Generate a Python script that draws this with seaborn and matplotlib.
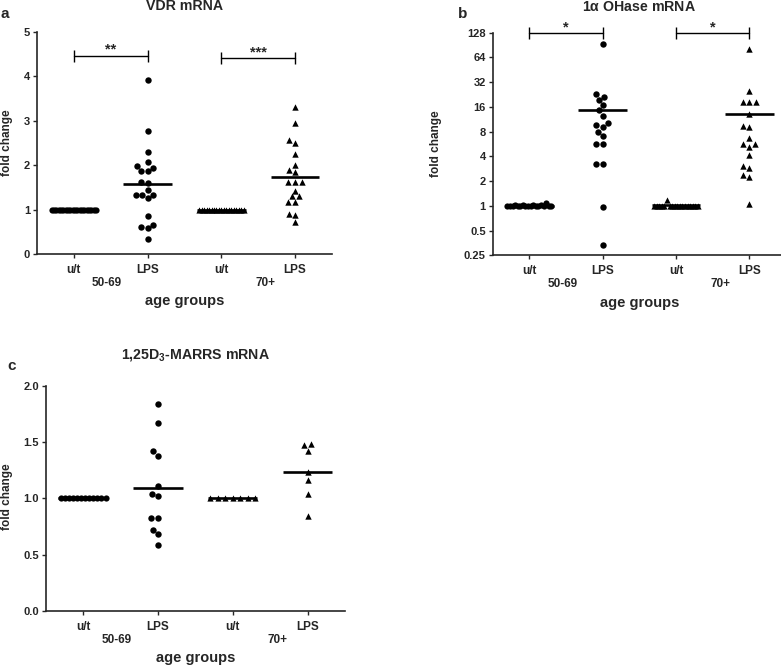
import numpy as np
import pandas as pd
import matplotlib
matplotlib.use("Agg")
import matplotlib.pyplot as plt
import seaborn as sns

sns.set_style("ticks")
plt.rcParams['font.family'] = ['Liberation Sans', 'DejaVu Sans']
plt.rcParams['font.weight'] = 'bold'
plt.rcParams['mathtext.fontset'] = 'custom'
plt.rcParams['mathtext.rm'] = 'Liberation Sans:bold'
plt.rcParams['mathtext.bf'] = 'Liberation Sans:bold'
plt.rcParams['mathtext.default'] = 'bf'

# x axis labels
cond_labels = ['u/t', 'LPS', 'u/t', 'LPS']
age_labels = ['50-69', '70+']

# panel a: VDR mRNA
vdr_ut_young = [1.0, 1.0, 1.0, 1.0, 1.0, 1.0, 1.0, 1.0, 1.0, 1.0,
                1.0, 1.0, 1.0, 1.0, 1.0, 1.0, 1.0, 1.0, 1.0, 1.0]
vdr_lps_young = [3.93, 2.78, 2.29, 2.07, 1.99, 1.94, 1.87, 1.87, 1.63, 1.60,
                 1.44, 1.34, 1.34, 1.34, 1.25, 0.86, 0.65, 0.61, 0.58, 0.34]
vdr_ut_old = [1.0, 1.0, 1.0, 1.0, 1.0, 1.0, 1.0, 1.0, 1.0, 1.0,
              1.0, 1.0, 1.0, 1.0, 1.0, 1.0, 1.0, 1.0, 1.0]
vdr_lps_old = [3.31, 2.94, 2.56, 2.50, 2.26, 2.01, 1.90, 1.84, 1.63, 1.63,
               1.63, 1.43, 1.30, 1.30, 1.17, 1.17, 0.90, 0.87, 0.71]
vdr_sig = ['**', '***']

# panel b: 1aOHase mRNA
ohase_ut_young = [1.0, 1.0, 1.0, 1.01, 1.0, 1.0, 1.02, 1.0, 1.0, 1.0,
                  1.01, 1.0, 1.0, 1.02, 1.0, 1.08, 1.0, 1.0]
ohase_lps_young = [93, 23.1, 21.4, 19.5, 17.0, 14.6, 12.5, 10.3, 9.6, 9.2,
                   8.0, 7.0, 5.7, 5.7, 3.2, 3.2, 0.98, 0.33]
ohase_ut_old = [1.0, 1.0, 1.0, 1.0, 1.0, 1.18, 1.0, 1.0, 1.0, 1.0,
                1.0, 1.0, 1.0, 1.0, 1.0, 1.0, 1.0, 1.0]
ohase_lps_old = [82, 25.2, 18.5, 18.5, 18.5, 13.0, 9.4, 9.2, 6.7, 5.7,
                 5.6, 5.2, 4.1, 3.07, 2.9, 2.4, 2.27, 1.04]
ohase_sig = ['*', '*']
ohase_ticks = [0.25, 0.5, 1, 2, 4, 8, 16, 32, 64, 128]
ohase_ticklabels = ['0.25', '0.5', '1', '2', '4', '8', '16', '32', '64', '128']

# panel c: 1,25D3-MARRS mRNA
marrs_ut_young = [1.0, 1.0, 1.0, 1.0, 1.0, 1.0, 1.0, 1.0, 1.0, 1.0, 1.0, 1.0]
marrs_lps_young = [1.84, 1.67, 1.42, 1.38, 1.11, 1.04, 1.02, 0.83, 0.83, 0.72, 0.68, 0.585]
marrs_ut_old = [1.0, 1.0, 1.0, 1.0, 1.0, 1.0, 1.0]
marrs_lps_old = [1.48, 1.47, 1.42, 1.23, 1.16, 1.04, 0.84]

W, H = 781, 666
fig = plt.figure(figsize=(W / 100, H / 100), dpi=100)


def px_axes(x0, x1, ytop, ybot):
    return fig.add_axes([x0 / W, 1 - ybot / H, (x1 - x0) / W, (ybot - ytop) / H])


def draw_panel(ax, groups, sig=None, sig_y=None, star_y=None):
    markers = ['o', 'o', '^', '^']
    for pos, vals in enumerate(groups):
        mk = markers[pos]
        if pos % 2 == 0:
            # untreated: points spread evenly across the column
            offs = np.linspace(-0.3, 0.3, len(vals))
            sns.scatterplot(x=pos + offs, y=vals, marker=mk, s=20, color='black',
                            linewidth=0, legend=False, ax=ax, clip_on=False)
        else:
            df = pd.DataFrame({'pos': float(pos), 'value': vals})
            sns.swarmplot(data=df, x='pos', y='value', orient='x', native_scale=True,
                          marker=mk, size=4.6, color='black', linewidth=0,
                          legend=False, ax=ax)
        ax.hlines(np.mean(vals), pos - 0.33, pos + 0.33, color='black', lw=1.9, zorder=5)

    if sig is not None:
        for i, s in enumerate(sig):
            ax.plot([2 * i, 2 * i + 1], [sig_y[i], sig_y[i]], color='black', lw=1,
                    marker='|', markersize=8, mew=1, clip_on=False)
            ax.text(2 * i + 0.5, star_y[i], s, ha='center', va='center',
                    fontsize=10.5, fontweight='bold')

    ax.set_xlim(-0.5, 3.5)
    ax.set_xticks([0, 1, 2, 3])
    ax.set_xticklabels(cond_labels)
    ax.set_xlabel('')
    ax.set_ylabel('')
    sns.despine(ax=ax)
    for sp in ['left', 'bottom']:
        ax.spines[sp].set_linewidth(1.2)
    ax.tick_params(direction='out', length=3, width=1, labelsize=8, pad=2)
    ax.tick_params(axis='x', pad=4, labelsize=8.5)
    for lab in ax.get_xticklabels() + ax.get_yticklabels():
        lab.set_fontweight('bold')

    ax.annotate(age_labels[0], xy=(0.45, 0), xycoords=('data', 'axes fraction'),
                xytext=(0, -21), textcoords='offset points', ha='center', va='center',
                fontsize=8.5, fontweight='bold')
    ax.annotate(age_labels[1], xy=(2.6, 0), xycoords=('data', 'axes fraction'),
                xytext=(0, -21), textcoords='offset points', ha='center', va='center',
                fontsize=8.5, fontweight='bold')
    ax.annotate('age groups', xy=(0.5, 0), xycoords='axes fraction',
                xytext=(0, -34), textcoords='offset points', ha='center', va='center',
                fontsize=10.5, fontweight='bold')


# panel a
ax_a = px_axes(37, 332, 32, 254)
draw_panel(ax_a, [vdr_ut_young, vdr_lps_young, vdr_ut_old, vdr_lps_old],
           sig=vdr_sig, sig_y=[4.45, 4.41], star_y=[4.6, 4.55])
ax_a.set_ylim(0, 5)
ax_a.set_yticks([0, 1, 2, 3, 4, 5])
ax_a.set_yticklabels(['0', '1', '2', '3', '4', '5'], fontweight='bold')
ax_a.annotate('VDR mRNA', xy=(0.5, 1), xycoords='axes fraction', xytext=(0, 19),
              textcoords='offset points', ha='center', va='center', fontsize=10.2, fontweight='bold')

# panel b
ax_b = px_axes(492.7, 786, 32.7, 255.3)
ax_b.set_yscale('log', base=2)
draw_panel(ax_b, [ohase_ut_young, ohase_lps_young, ohase_ut_old, ohase_lps_old],
           sig=ohase_sig, sig_y=[128, 126], star_y=[147, 150])
ax_b.set_ylim(0.25, 128)
ax_b.set_yticks(ohase_ticks)
ax_b.set_yticklabels(ohase_ticklabels, fontweight='bold')
ax_b.minorticks_off()
ax_b.annotate('1$\\alpha$ OHase mRNA', xy=(0.5, 1), xycoords='axes fraction', xytext=(0, 18.5),
              textcoords='offset points', ha='center', va='center', fontsize=10.2, fontweight='bold')

# panel c
ax_c = px_axes(45.7, 345, 385.7, 611)
draw_panel(ax_c, [marrs_ut_young, marrs_lps_young, marrs_ut_old, marrs_lps_old])
ax_c.set_ylim(0, 2.0)
ax_c.set_yticks([0, 0.5, 1.0, 1.5, 2.0])
ax_c.set_yticklabels(['0.0', '0.5', '1.0', '1.5', '2.0'], fontweight='bold')
ax_c.annotate('1,25D$_3$-MARRS mRNA', xy=(0.5, 1), xycoords='axes fraction', xytext=(0, 22),
              textcoords='offset points', ha='center', va='center', fontsize=10.2, fontweight='bold')

# y labels and panel letters
for (x, y) in [(7, 143), (436, 144), (7, 497)]:
    fig.text(x / W, 1 - y / H, 'fold change', rotation=90, ha='center', va='center',
             fontsize=8.5, fontweight='bold')
for (x, y, t) in [(5, 14, 'a'), (463, 14, 'b'), (12, 366, 'c')]:
    fig.text(x / W, 1 - y / H, t, ha='center', va='center', fontsize=11, fontweight='bold')

fig.savefig('out.png', dpi=100)
